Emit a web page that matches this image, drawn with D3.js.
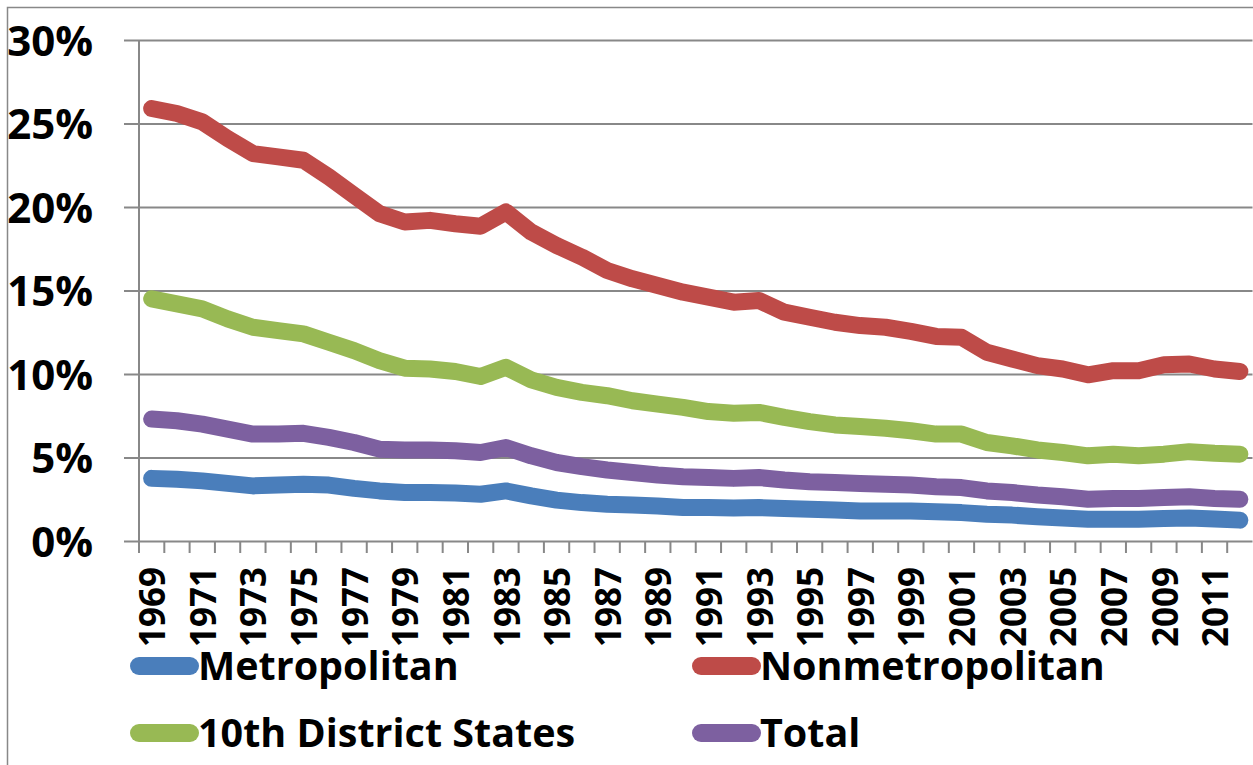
<!DOCTYPE html>
<html>
<head>
<meta charset="utf-8">
<script src="https://cdn.jsdelivr.net/npm/d3@7"></script>
<style>
  body { margin: 0; background: #fff; }
  svg { display: block; font-family: "Open Sans", sans-serif; font-weight: bold; }
</style>
</head>
<body>
<svg id="canvas" width="1253" height="765"></svg>
<script>
const years = [1969, 1970, 1971, 1972, 1973, 1974, 1975, 1976, 1977, 1978, 1979,
  1980, 1981, 1982, 1983, 1984, 1985, 1986, 1987, 1988, 1989, 1990, 1991,
  1992, 1993, 1994, 1995, 1996, 1997, 1998, 1999, 2000, 2001, 2002, 2003,
  2004, 2005, 2006, 2007, 2008, 2009, 2010, 2011, 2012];
const yearLabels = [1969, 1971, 1973, 1975, 1977, 1979, 1981, 1983, 1985, 1987, 1989,
  1991, 1993, 1995, 1997, 1999, 2001, 2003, 2005, 2007, 2009, 2011];
const yTicks = [0, 5, 10, 15, 20, 25, 30];

// percent values
const metropolitan = [3.75, 3.7, 3.6, 3.45, 3.3, 3.35, 3.4, 3.35, 3.15, 3.0, 2.9,
  2.9, 2.88, 2.8, 3.0, 2.7, 2.45, 2.3, 2.2, 2.15, 2.1, 2.0, 2.0, 1.97, 2.0, 1.95, 1.9, 1.85,
  1.8, 1.8, 1.8, 1.75, 1.7, 1.6, 1.55, 1.45, 1.38, 1.3, 1.3, 1.3, 1.35, 1.38, 1.32, 1.25];
const nonmetropolitan = [25.9, 25.6, 25.1, 24.1, 23.2, 23.0, 22.8, 21.8, 20.7, 19.6, 19.1,
  19.2, 19.0, 18.85, 19.7, 18.5, 17.7, 17.0, 16.2, 15.7, 15.3, 14.9, 14.6, 14.3, 14.4, 13.7, 13.4, 13.1,
  12.9, 12.8, 12.55, 12.25, 12.2, 11.3, 10.9, 10.5, 10.3, 9.95, 10.2, 10.2, 10.55, 10.6, 10.3, 10.15];
const districtStates = [14.5, 14.2, 13.9, 13.3, 12.8, 12.6, 12.4, 11.9, 11.4, 10.8, 10.35,
  10.3, 10.15, 9.85, 10.4, 9.65, 9.2, 8.9, 8.7, 8.4, 8.2, 8.0, 7.75, 7.65, 7.7, 7.4, 7.15, 6.95,
  6.85, 6.75, 6.6, 6.4, 6.4, 5.9, 5.7, 5.45, 5.3, 5.1, 5.2, 5.1, 5.2, 5.35, 5.25, 5.2];
const total = [7.3, 7.2, 7.0, 6.7, 6.4, 6.4, 6.45, 6.2, 5.9, 5.5, 5.45,
  5.45, 5.4, 5.3, 5.6, 5.1, 4.7, 4.45, 4.25, 4.1, 3.95, 3.85, 3.8, 3.75, 3.8, 3.65, 3.55, 3.5,
  3.45, 3.4, 3.35, 3.25, 3.2, 3.0, 2.9, 2.75, 2.65, 2.5, 2.55, 2.55, 2.6, 2.65, 2.55, 2.5];

const seriesNames = ['Metropolitan', 'Nonmetropolitan', '10th District States', 'Total'];
const seriesValues = [metropolitan, nonmetropolitan, districtStates, total];
const colors = ['#4A7EBB', '#BE4B48', '#98B954', '#7D60A0'];

const gridColor = '#888888';
const plotLeft = 139;
const plotRight = 1252.5;
const plotTop = 40;
const plotBottom = 541;

let canvas = d3.select('#canvas');

let x = d3.scaleBand()
    .domain(years)
    .range([plotLeft, plotRight])
    .paddingInner(0)
    .paddingOuter(0);

let y = d3.scaleLinear()
    .domain([0, 30])
    .range([plotBottom, plotTop]);

// chart border
canvas.append('rect')
    .attr('x', 7.5)
    .attr('y', 7.5)
    .attr('width', 1400)
    .attr('height', 900)
    .attr('fill', 'none')
    .attr('stroke', gridColor)
    .attr('stroke-width', 1.5);

// gridlines + y labels
let yAxis = d3.axisLeft(y)
    .tickValues(yTicks)
    .tickSize(-(plotRight - plotLeft))
    .tickPadding(0)
    .tickFormat(d => d + '%');

let yG = canvas.append('g')
    .attr('transform', 'translate(' + plotLeft + ',0)')
    .call(yAxis);
yG.select('.domain').remove();
yG.selectAll('.tick line')
    .attr('x1', -15)
    .attr('stroke', gridColor)
    .attr('stroke-width', 2);
yG.selectAll('.tick text')
    .attr('x', -46)
    .attr('dy', '0.36em')
    .attr('fill', '#000')
    .style('font-size', '42px')
    .style('font-family', '"Open Sans", sans-serif')
    .style('font-weight', 'bold');

// vertical axis line
canvas.append('line')
    .attr('x1', plotLeft).attr('x2', plotLeft)
    .attr('y1', plotTop).attr('y2', plotBottom)
    .attr('stroke', gridColor)
    .attr('stroke-width', 2);

// x axis: ticks between categories
let xTicks = canvas.append('g');
xTicks.selectAll('line')
    .data(years)
    .enter()
    .append('line')
    .attr('x1', d => x(d))
    .attr('x2', d => x(d))
    .attr('y1', plotBottom)
    .attr('y2', plotBottom + 12)
    .attr('stroke', gridColor)
    .attr('stroke-width', 2);

canvas.selectAll('text.year')
    .data(yearLabels)
    .enter()
    .append('text')
    .attr('class', 'year')
    .attr('transform', d => 'translate(' + (x(d) + x.bandwidth() / 2 + 1) + ',' + (plotBottom + 26) + ') rotate(-90)')
    .attr('text-anchor', 'end')
    .attr('dy', '0.36em')
    .style('font-size', '35px')
    .text(d => d);

// series lines
let line = d3.line()
    .x((d, i) => x(years[i]) + x.bandwidth() / 2)
    .y(d => y(d));

canvas.selectAll('path.series')
    .data(seriesValues)
    .enter()
    .append('path')
    .attr('class', 'series')
    .attr('d', d => line(d))
    .attr('fill', 'none')
    .attr('stroke', (d, i) => colors[i])
    .attr('stroke-width', 17)
    .attr('stroke-linejoin', 'round')
    .attr('stroke-linecap', 'round');

// legend
let legend = canvas.selectAll('g.legend')
    .data(seriesNames)
    .enter()
    .append('g')
    .attr('class', 'legend')
    .attr('transform', (d, i) => 'translate(' + (130 + (i % 2) * 562) + ',' + (666 + Math.floor(i / 2) * 67) + ')');

legend.append('line')
    .attr('x1', 9)
    .attr('x2', 60)
    .attr('y1', 0)
    .attr('y2', 0)
    .attr('stroke', (d, i) => colors[i])
    .attr('stroke-width', 18)
    .attr('stroke-linecap', 'round');

legend.append('text')
    .attr('x', 68)
    .attr('y', 14)
    .style('font-size', '39.5px')
    .text(d => d);
</script>
</body>
</html>
